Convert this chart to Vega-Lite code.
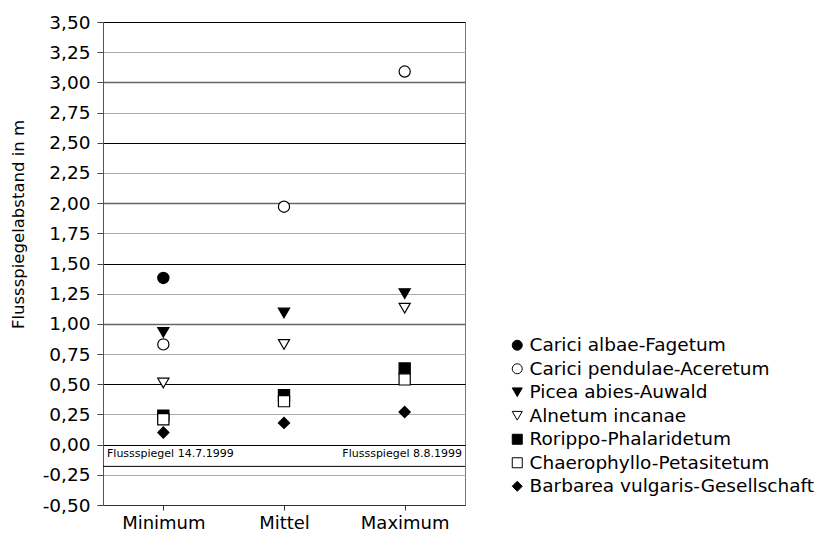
{
  "$schema": "https://vega.github.io/schema/vega-lite/v6.json",
  "autosize": "none",
  "width": 362,
  "height": 483,
  "padding": {"left": 103, "top": 22, "right": 364, "bottom": 33},
  "background": "white",
  "config": {
    "font": "DejaVu Sans",
    "view": {"stroke": "#777", "strokeWidth": 1},
    "legend": {"symbolStrokeColor": "black", "symbolStrokeWidth": 1}
  },
  "datasets": {
    "points": [
      {"Kennwert": "Minimum", "Gesellschaft": "Carici albae-Fagetum", "Abstand": 1.38},
      {"Kennwert": "Minimum", "Gesellschaft": "Carici pendulae-Aceretum", "Abstand": 0.83},
      {"Kennwert": "Minimum", "Gesellschaft": "Picea abies-Auwald", "Abstand": 0.93},
      {"Kennwert": "Minimum", "Gesellschaft": "Alnetum incanae", "Abstand": 0.51},
      {"Kennwert": "Minimum", "Gesellschaft": "Rorippo-Phalaridetum", "Abstand": 0.24},
      {"Kennwert": "Minimum", "Gesellschaft": "Chaerophyllo-Petasitetum", "Abstand": 0.21},
      {"Kennwert": "Minimum", "Gesellschaft": "Barbarea vulgaris-Gesellschaft", "Abstand": 0.10},
      {"Kennwert": "Mittel", "Gesellschaft": "Carici pendulae-Aceretum", "Abstand": 1.97},
      {"Kennwert": "Mittel", "Gesellschaft": "Picea abies-Auwald", "Abstand": 1.09},
      {"Kennwert": "Mittel", "Gesellschaft": "Alnetum incanae", "Abstand": 0.83},
      {"Kennwert": "Mittel", "Gesellschaft": "Rorippo-Phalaridetum", "Abstand": 0.41},
      {"Kennwert": "Mittel", "Gesellschaft": "Chaerophyllo-Petasitetum", "Abstand": 0.36},
      {"Kennwert": "Mittel", "Gesellschaft": "Barbarea vulgaris-Gesellschaft", "Abstand": 0.18},
      {"Kennwert": "Maximum", "Gesellschaft": "Carici pendulae-Aceretum", "Abstand": 3.09},
      {"Kennwert": "Maximum", "Gesellschaft": "Picea abies-Auwald", "Abstand": 1.25},
      {"Kennwert": "Maximum", "Gesellschaft": "Alnetum incanae", "Abstand": 1.13},
      {"Kennwert": "Maximum", "Gesellschaft": "Rorippo-Phalaridetum", "Abstand": 0.63},
      {"Kennwert": "Maximum", "Gesellschaft": "Chaerophyllo-Petasitetum", "Abstand": 0.54},
      {"Kennwert": "Maximum", "Gesellschaft": "Barbarea vulgaris-Gesellschaft", "Abstand": 0.27}
    ],
    "labels": [
      {"text": "Flussspiegel 14.7.1999", "Abstand": 0, "side": "left"},
      {"text": "Flussspiegel 8.8.1999", "Abstand": 0, "side": "right"}
    ],
    "rules": [
      {"Abstand": -0.18}
    ]
  },
  "encoding": {
    "y": {
      "field": "Abstand", "type": "quantitative",
      "scale": {"domain": [-0.5, 3.5], "nice": false, "zero": false},
      "axis": {
        "title": "Flussspiegelabstand in m",
        "titleFontSize": 16.5, "titleFontWeight": "normal", "titleColor": "black",
        "titleX": -85, "titleY": 202, "titleAngle": -90, "titleAlign": "center", "titleBaseline": "middle",
        "values": [-0.5, -0.25, 0, 0.25, 0.5, 0.75, 1, 1.25, 1.5, 1.75, 2, 2.25, 2.5, 2.75, 3, 3.25, 3.5],
        "labelExpr": "replace(replace(format(datum.value, '.2f'), '.', ','), '\u2212', '-')",
        "labelFontSize": 18.5, "labelColor": "black", "labelPadding": 7,
        "tickSize": 6, "tickColor": "#444", "domainColor": "#555",
        "grid": true,
        "gridColor": {"condition": [
          {"test": "abs(datum.value - round(datum.value)) < 0.001 && datum.value != 0", "value": "#666"},
          {"test": "abs(datum.value * 2 - round(datum.value * 2)) < 0.001", "value": "black"}
        ], "value": "#aaa"},
        "gridWidth": {"condition": {"test": "abs(datum.value - round(datum.value)) < 0.001 && datum.value != 0", "value": 1.5}, "value": 1},
        "gridOpacity": 1
      }
    }
  },
  "layer": [
    {
      "data": {"name": "rules"},
      "mark": {"type": "rule", "color": "black", "strokeWidth": 1},
      "encoding": {}
    },
    {
      "data": {"name": "labels"},
      "transform": [{"filter": "datum.side === 'left'"}],
      "mark": {"type": "text", "align": "left", "baseline": "top", "dy": 3, "fontSize": 11, "color": "black"},
      "encoding": {
        "x": {"value": 4},
        "text": {"field": "text"}
      }
    },
    {
      "data": {"name": "labels"},
      "transform": [{"filter": "datum.side === 'right'"}],
      "mark": {"type": "text", "align": "right", "baseline": "top", "dy": 3, "fontSize": 11, "color": "black"},
      "encoding": {
        "x": {"value": {"expr": "width - 3"}},
        "text": {"field": "text"}
      }
    },
    {
      "data": {"name": "points"},
      "mark": {"type": "point", "filled": true, "strokeWidth": 1.2, "opacity": 1, "size": 125},
      "encoding": {
        "x": {
          "field": "Kennwert", "type": "nominal", "sort": ["Minimum", "Mittel", "Maximum"],
          "scale": {"type": "point", "padding": 0.5},
          "axis": {"title": null, "labelAngle": 0, "labelFontSize": 18, "labelColor": "black", "domainColor": "#333", "tickColor": "#333", "tickSize": 5, "labelPadding": 4}
        },
        "shape": {
          "field": "Gesellschaft", "type": "nominal",
          "scale": {
            "domain": ["Carici albae-Fagetum", "Carici pendulae-Aceretum", "Picea abies-Auwald", "Alnetum incanae", "Rorippo-Phalaridetum", "Chaerophyllo-Petasitetum", "Barbarea vulgaris-Gesellschaft"],
            "range": ["circle", "circle", "triangle-down", "triangle-down", "square", "square", "diamond"]
          },
          "legend": {
            "title": null, "orient": "none", "legendX": 405, "legendY": 314, "padding": 0,
            "labelFontSize": 18.5, "labelColor": "black", "rowPadding": 4.5, "symbolSize": 100,
            "labelOffset": 3, "labelLimit": 400
          }
        },
        "fill": {
          "field": "Gesellschaft", "type": "nominal",
          "scale": {
            "domain": ["Carici albae-Fagetum", "Carici pendulae-Aceretum", "Picea abies-Auwald", "Alnetum incanae", "Rorippo-Phalaridetum", "Chaerophyllo-Petasitetum", "Barbarea vulgaris-Gesellschaft"],
            "range": ["black", "white", "black", "white", "black", "white", "black"]
          },
          "legend": {
            "title": null, "orient": "none", "legendX": 405, "legendY": 314, "padding": 0,
            "labelFontSize": 18.5, "labelColor": "black", "rowPadding": 4.5, "symbolSize": 100,
            "labelOffset": 3, "labelLimit": 400
          }
        },
        "stroke": {
          "field": "Gesellschaft", "type": "nominal",
          "scale": {
            "domain": ["Carici albae-Fagetum", "Carici pendulae-Aceretum", "Picea abies-Auwald", "Alnetum incanae", "Rorippo-Phalaridetum", "Chaerophyllo-Petasitetum", "Barbarea vulgaris-Gesellschaft"],
            "range": ["black", "black", "black", "black", "black", "black", "black"]
          },
          "legend": {
            "title": null, "orient": "none", "legendX": 405, "legendY": 314, "padding": 0,
            "labelFontSize": 18.5, "labelColor": "black", "rowPadding": 4.5, "symbolSize": 100,
            "labelOffset": 3, "labelLimit": 400
          }
        }
      }
    }
  ]
}
